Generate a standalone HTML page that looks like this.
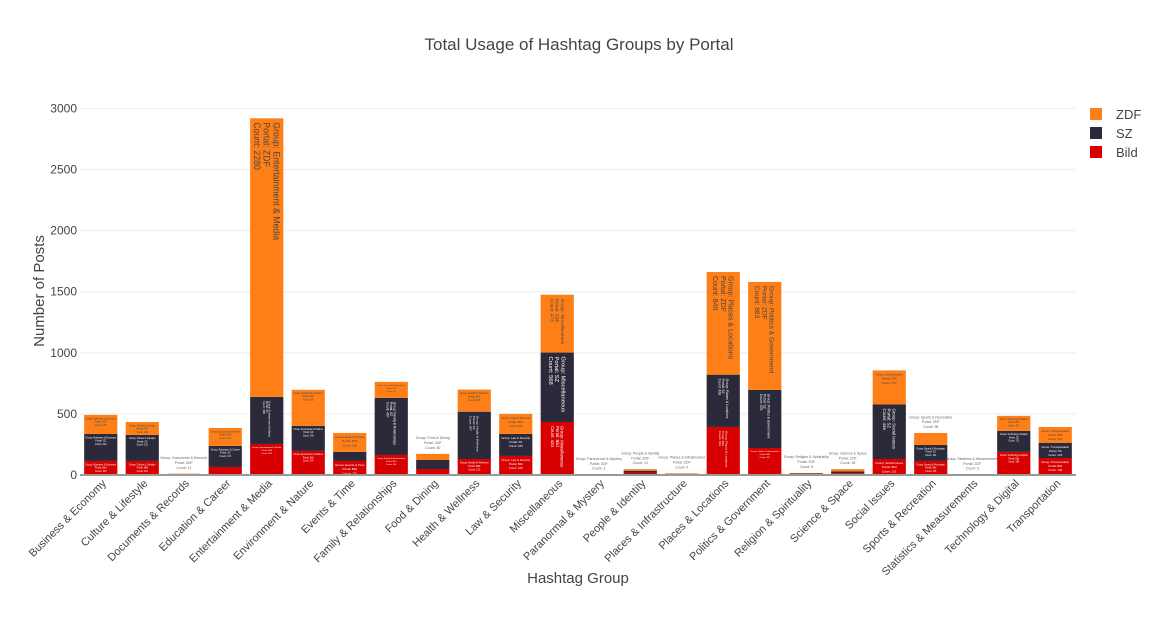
<!DOCTYPE html>
<html><head><meta charset="utf-8"><style>
body{margin:0;background:#fff;}
svg{font-family:"Liberation Sans","DejaVu Sans",sans-serif;}
</style></head><body>
<svg id="chart" width="1158" height="625">
<text x="579" y="50" text-anchor="middle" font-size="17" fill="#444">Total Usage of Hashtag Groups by Portal</text>
<g id="grid"></g><g id="bars"></g><g id="xlabels"></g>
<line x1="80" x2="1076" y1="475" y2="475" stroke="#999" stroke-width="2"/>
<text x="578" y="583" text-anchor="middle" font-size="15" fill="#444">Hashtag Group</text>
<text transform="translate(44,291) rotate(-90)" text-anchor="middle" font-size="15" fill="#444">Number of Posts</text>
<g id="legend" font-size="13" fill="#444"></g>
</svg>
<script>
const categories=["Business & Economy","Culture & Lifestyle","Documents & Records","Education & Career","Entertainment & Media","Environment & Nature","Events & Time","Family & Relationships","Food & Dining","Health & Wellness","Law & Security","Miscellaneous","Paranormal & Mystery","People & Identity","Places & Infrastructure","Places & Locations","Politics & Government","Religion & Spirituality","Science & Space","Social Issues","Sports & Recreation","Statistics & Measurements","Technology & Digital","Transportation"];
const bildValues=[115,115,0,66,254,197,115,164,49,131,156,434,0,20,2,393,221,4,15,131,115,0,189,139];
const szValues=[221,213,0,172,385,205,74,467,74,387,180,568,0,15,8,428,476,8,15,446,131,0,172,123];
const zdfValues=[156,106,11,147,2280,295,155,131,50,181,164,473,3,13,4,840,883,5,18,279,98,3,123,131];
const yTicks=[0,500,1000,1500,2000,2500,3000];
const seriesNames=["Bild","SZ","ZDF"];
const seriesColors=["#d80000","#2a2a3a","#fe7f18"];
const ns="http://www.w3.org/2000/svg";
const X0=80,X1=1076,Y0=475,PX=0.1222;
const band=(X1-X0)/categories.length;
const xC=i=>X0+band*(i+0.5);
const y=v=>Y0-v*PX;
function mk(tag,attrs,parent){const e=document.createElementNS(ns,tag);for(const k in attrs)e.setAttribute(k,attrs[k]);parent.appendChild(e);return e;}
const grid=document.getElementById('grid');
yTicks.forEach(t=>{
 if(t>0){const l=mk('line',{x1:X0,x2:X1,y1:y(t),y2:y(t),stroke:'#eee'},grid);
 
 }
 const tx=mk('text',{x:X0-3,y:y(t)+4,'text-anchor':'end','font-size':12,fill:'#444'},grid);tx.textContent=t;
 
 
});
const bars=document.getElementById('bars');
const series=[bildValues,szValues,zdfValues];
const bw=band*0.8;
categories.forEach((c,i)=>{
 let base=0;
 series.forEach((vals,s)=>{
  const v=vals[i];if(v<=0)return;
  const top=y(base+v),bot=y(base),h=bot-top;
  const r=mk('rect',{x:xC(i)-bw/2,y:top,width:bw,height:h,fill:seriesColors[s]},bars);
  
  
  const lines=["Group: "+c,"Portal: "+seriesNames[s],"Count: "+v];
  const maxLen=Math.max(...lines.map(l=>l.length));
  const col=s==2?'#444':'#fff';
  let g=null;
  if(h>=45){
   const fs=Math.min(9,(h-6)/(maxLen*0.55),bw/3.8);
   const L=fs*1.1;
   g=mk('text',{transform:`translate(${xC(i)+L-0.35*fs},${top+4}) rotate(90)`,'font-size':fs,fill:col,'text-anchor':'start'},bars);
   lines.forEach((l,k)=>{const ts=mk('tspan',{x:0,dy:k?L:0},g);ts.textContent=l;});
  }else if(h>=12){
   const fs=Math.min(3.5,bw/(maxLen*0.55));
   g=mk('text',{x:xC(i),y:top+fs+2,'font-size':fs,fill:col,'text-anchor':'middle'},bars);
   lines.forEach((l,k)=>{const ts=mk('tspan',{x:xC(i),dy:k?fs*1.4:0},g);ts.textContent=l;});
  }else if(s==2){
   const fs=3.5;
   g=mk('text',{x:xC(i),y:top-3*fs*1.4,'font-size':fs,fill:'#666','text-anchor':'middle'},bars);
   lines.forEach((l,k)=>{const ts=mk('tspan',{x:xC(i),dy:k?fs*1.4:0},g);ts.textContent=l;});
  }
  if(g){
  
  
  }
  base+=v;
 });
});
const xl=document.getElementById('xlabels');
categories.forEach((c,i)=>{
 const t=mk('text',{transform:`translate(${xC(i)+6},${484}) rotate(-45)`,'text-anchor':'end','font-size':11,fill:'#444'},xl);
 t.textContent=c;
 
 
});
const lg=document.getElementById('legend');
[2,1,0].forEach((s,k)=>{
 const g=mk('g',{},lg);
 
 
 mk('rect',{x:1090,y:108+k*19,width:12,height:12,fill:seriesColors[s]},g);
 const t=mk('text',{x:1116,y:119+k*19},g);t.textContent=seriesNames[s];
});
</script>
</body></html>
